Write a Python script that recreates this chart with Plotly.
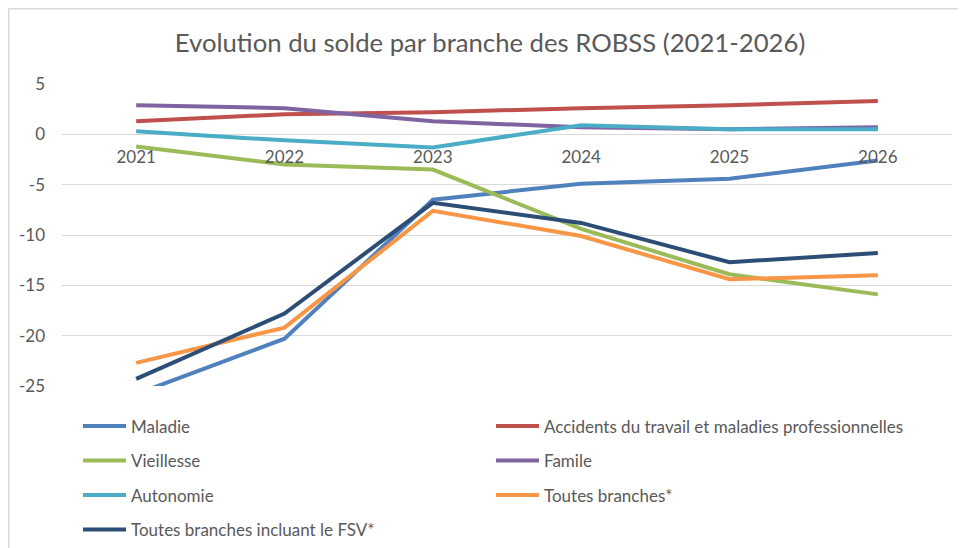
import plotly.graph_objects as go

years = ["2021", "2022", "2023", "2024", "2025", "2026"]

maladie = [-25.8, -20.3, -6.5, -4.9, -4.4, -2.6]
accidents = [1.3, 2.0, 2.2, 2.6, 2.9, 3.3]
vieillesse = [-1.2, -3.0, -3.5, -9.4, -13.9, -15.9]
famille = [2.9, 2.6, 1.3, 0.7, 0.5, 0.7]
autonomie = [0.3, -0.6, -1.3, 0.9, 0.5, 0.5]
toutes = [-22.7, -19.2, -7.6, -10.1, -14.4, -14.0]
toutes_fsv = [-24.3, -17.8, -6.8, -8.8, -12.7, -11.8]

y_tickvals = [5, 0, -5, -10, -15, -20, -25]
y_ticktext = ["5", "0", "-5", "-10", "-15", "-20", "-25"]

series = [
    ("Maladie", maladie, "#4F81BD", "legend"),
    ("Accidents du travail et maladies professionnelles", accidents, "#C0504D", "legend2"),
    ("Vieillesse", vieillesse, "#9BBB59", "legend"),
    ("Famile", famille, "#8064A2", "legend2"),
    ("Autonomie", autonomie, "#4BACC6", "legend"),
    ("Toutes branches*", toutes, "#F79646", "legend2"),
    ("Toutes branches incluant le FSV*", toutes_fsv, "#2C4D75", "legend"),
]

FONT = "Lato, 'Open Sans', sans-serif"
GREY = "#595959"

fig = go.Figure()
for i, (name, vals, color, lg) in enumerate(series):
    fig.add_trace(go.Scatter(
        x=years, y=vals, name=name, mode="lines",
        line=dict(color=color, width=4),
        legend=lg, legendgroup=f"g{i}",
    ))

# page body has an 8px margin: the figure starts at (8, 8) in the window
OFF = 8
W, H = 966 - OFF, 548 - OFF
# plot area in window pixels: x 62..952, y 84..386
ml = 62 - OFF
mr = W - (952 - OFF)
mt = 84 - OFF
mb = H - (386 - OFF)
ph = H - mt - mb
pw = W - ml - mr

def py(wy):
    fy = wy - OFF
    return (H - mb - fy) / ph

def px_(wx):
    fx = wx - OFF
    return (fx - ml) / pw

legend_common = dict(
    font=dict(family=FONT, size=17, color=GREY),
    bgcolor="rgba(0,0,0,0)",
    orientation="v",
    yanchor="top", xanchor="left",
    tracegroupgap=9.4,
    itemwidth=43,
    itemclick=False, itemdoubleclick=False,
)

fig.update_layout(
    width=W, height=H,
    margin=dict(l=ml, r=mr, t=mt, b=mb, autoexpand=False),
    paper_bgcolor="white", plot_bgcolor="white",
    font=dict(family=FONT, color=GREY),
    title=dict(
        text="Evolution du solde par branche des ROBSS (2021-2026)",
        font=dict(family=FONT, size=25.7, color=GREY),
        x=(490 - OFF) / W, xref="container", xanchor="center",
        y=1 - (43 - OFF) / H, yref="container", yanchor="middle",
    ),
    xaxis=dict(
        type="category", range=[-0.5, 5.5],
        showgrid=False, showline=False, zeroline=False, ticks="",
        anchor="free", position=py(134), automargin=False,
        tickfont=dict(family=FONT, size=17, color=GREY),
        ticklabelstandoff=11,
    ),
    yaxis=dict(
        range=[-25, 5], tickmode="array",
        tickvals=y_tickvals, ticktext=y_ticktext, automargin=False,
        showgrid=True, gridcolor="#D9D9D9", gridwidth=1.3,
        zeroline=False, showline=False, ticks="",
        tickfont=dict(family=FONT, size=17, color=GREY),
        ticklabelstandoff=16,
    ),
    legend=dict(x=px_(78), y=py(408.5), **legend_common),
    legend2=dict(x=px_(491), y=py(408.5), **legend_common),
    showlegend=True,
    shapes=[
        dict(type="line", xref="paper", yref="paper",
             x0=px_(8), x1=px_(966), y0=py(8.5), y1=py(8.5),
             line=dict(color="#D9D9D9", width=2)),
        dict(type="line", xref="paper", yref="paper",
             x0=px_(8.5), x1=px_(8.5), y0=py(8), y1=py(560),
             line=dict(color="#D9D9D9", width=2)),
    ],
)

fig.write_html("out.html")
